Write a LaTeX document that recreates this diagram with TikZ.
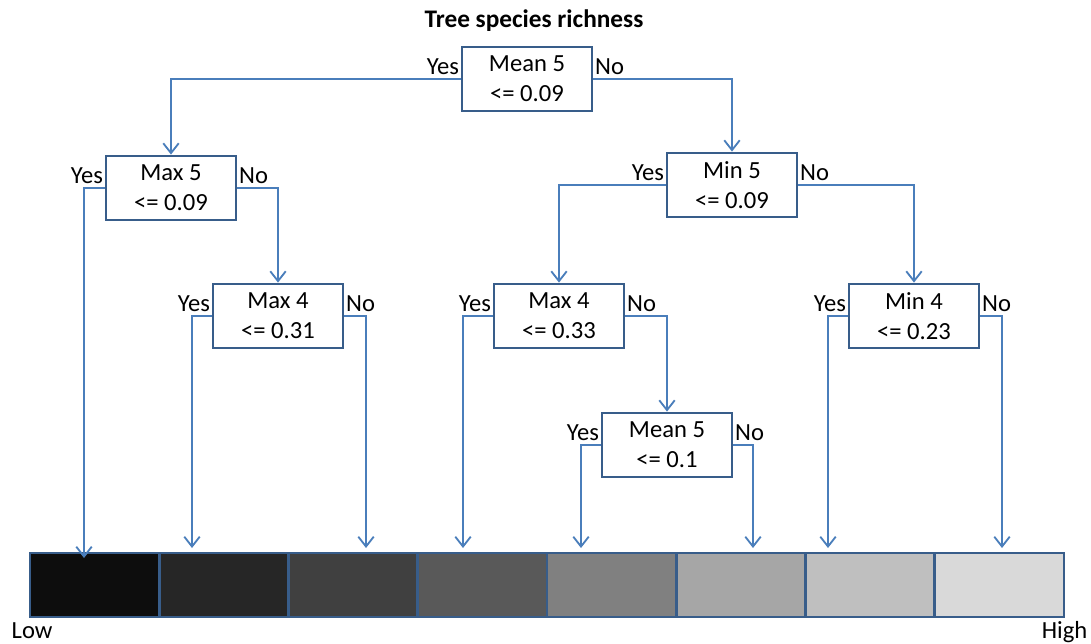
\documentclass[tikz,border=0pt]{standalone}
\usepackage{fontspec}
\setmainfont{Carlito}
\usetikzlibrary{arrows.meta}
\definecolor{boxblue}{HTML}{385D8A}
\definecolor{lineblue}{HTML}{4A7EBB}
\tikzset{
  test/.style={draw=boxblue, line width=2pt, fill=white, minimum width=3.25cm,
    minimum height=1.6cm, align=center, font=\fontsize{17.5}{21.5}\selectfont},
  ans/.style={font=\fontsize{17.5}{21}\selectfont, inner sep=1pt},
  branch/.style={draw=lineblue, line width=1.3pt, -{Straight Barb[length=7pt,width=11pt]}},
}
\begin{document}
\begin{tikzpicture}[x=0.025cm, y=-0.025cm]
     \useasboundingbox (0,0) rectangle (1091,644);
     % colour bar
     \foreach \k [count=\i from 0] in {95,85,75,65,50,35,25,15}
       \filldraw[fill=black!\k, draw=boxblue, line width=2pt] ({30+129.25*\i},553) rectangle ({30+129.25*(\i+1)},617);
     \node[ans, anchor=base west] (low) at (10,638) {Low};
     \node[ans, anchor=base east] (high) at (1089,638) {High};
     \node[anchor=base, font=\bfseries\fontsize{18}{22}\selectfont] (title) at (534,28) {Tree species richness};
     % splits
     \node[test] (m5a) at (527,79) {Mean 5\\<= 0.09};
     \node[test] (mx5) at (171,188) {Max 5\\<= 0.09};
     \node[test] (mx4a) at (278,316) {Max 4\\<= 0.31};
     \node[test] (mn5) at (732,185) {Min 5\\<= 0.09};
     \node[test] (mx4b) at (559,316) {Max 4\\<= 0.33};
     \node[test] (m5b) at (667,445) {Mean 5\\<= 0.1};
     \node[test] (mn4) at (914,316) {Min 4\\<= 0.23};
     % leaf ends on the bar
     \coordinate (e1) at (84,558);
     \coordinate (e2) at (192,548);
     \coordinate (e3) at (366,548);
     \coordinate (e4) at (463,548);
     \coordinate (e5) at (581,548);
     \coordinate (e6) at (753,548);
     \coordinate (e7) at (828,548);
     \coordinate (e8) at (1002,548);
     % branches
     \draw[branch] (m5a.west) -| (mx5.north);
     \draw[branch] (m5a.east) -| (mn5.north);
     \draw[branch] (mx5.west) -| (e1);
     \draw[branch] (mx5.east) -| (mx4a.north);
     \draw[branch] (mx4a.west) -| (e2);
     \draw[branch] (mx4a.east) -| (e3);
     \draw[branch] (mn5.west) -| (mx4b.north);
     \draw[branch] (mn5.east) -| (mn4.north);
     \draw[branch] (mx4b.west) -| (e4);
     \draw[branch] (mx4b.east) -| (m5b.north);
     \draw[branch] (m5b.west) -| (e5);
     \draw[branch] (m5b.east) -| (e6);
     \draw[branch] (mn4.west) -| (e7);
     \draw[branch] (mn4.east) -| (e8);
     % yes / no
     \foreach \n in {m5a,mx5,mx4a,mn5,mx4b,m5b,mn4} {
       \node[ans, anchor=base east] (yes-\n) at ([yshift=3.5pt]\n.west) {Yes};
       \node[ans, anchor=base west] (no-\n) at ([yshift=3.5pt]\n.east) {No};
     }
\end{tikzpicture}
\end{document}
